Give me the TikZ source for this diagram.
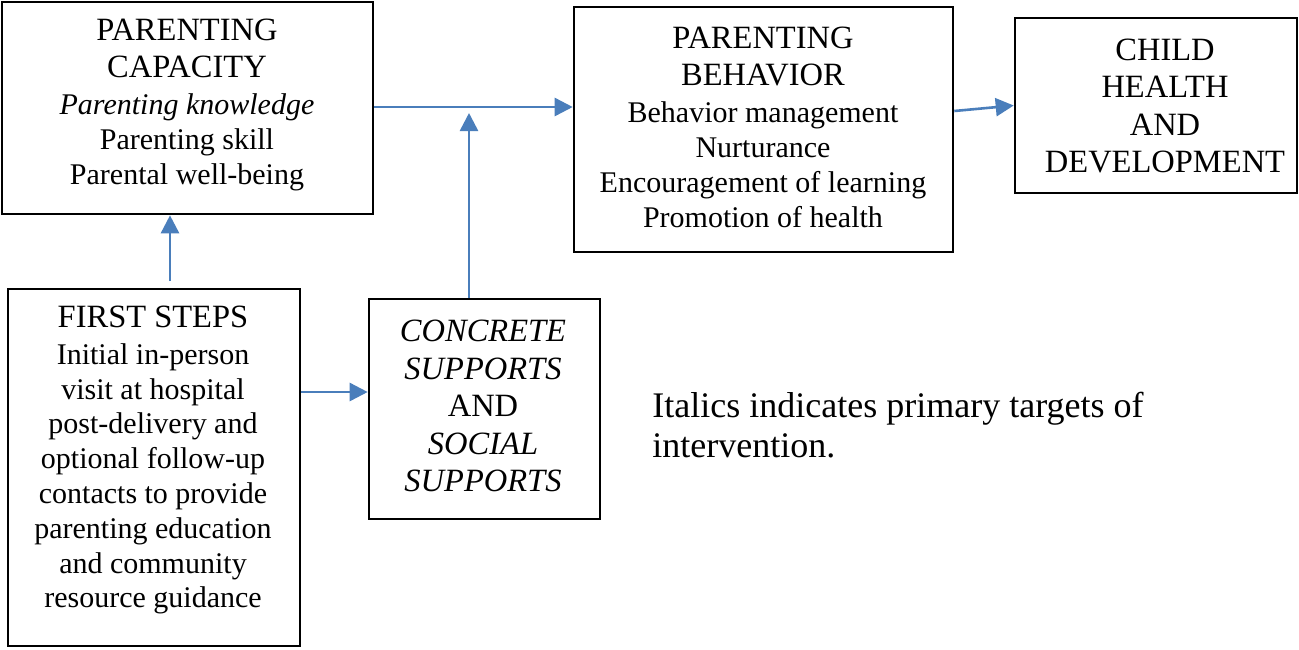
\documentclass[tikz,border=0pt]{standalone}
\usepackage{fontspec}
\setmainfont{Liberation Serif}
\usetikzlibrary{arrows.meta}
\definecolor{arrowblue}{HTML}{4A7EBB}
\newcommand{\ttlf}{\fontsize{16.25}{17.4}\selectfont}
\newcommand{\bdyf}{\fontsize{15}{17.4}\selectfont}
\newcommand{\capsf}{\fontsize{16.25}{18.8}\selectfont}
\begin{document}
\begin{tikzpicture}[x=0.5pt,y=-0.5pt,
  box/.style={draw=black, line width=1.3pt, inner sep=0pt},
  txt/.style={align=center, inner sep=0pt, font=\bdyf},
  capstxt/.style={align=center, inner sep=0pt, font=\capsf},
  arr/.style={draw=arrowblue, line width=1.3pt, -{Triangle[length=9pt,width=9pt]}}]
\useasboundingbox (0,0) rectangle (1299,649);
% boxes
\node[box, minimum width=185.5pt, minimum height=106pt] (cap) at (187.5,108) {};
\node[box, minimum width=189.5pt, minimum height=122.5pt] (beh) at (763.5,129.5) {};
\node[box, minimum width=141pt, minimum height=87.5pt] (child) at (1156,105.5) {};
\node[box, minimum width=146pt, minimum height=178.5pt] (fs) at (154,467.5) {};
\node[box, minimum width=115.5pt, minimum height=110pt] (cs) at (484.5,409) {};
% texts
\node[txt] (capt) at (187,105) {\ttlf PARENTING\\[1.2pt] \ttlf CAPACITY\\[1.2pt] \itshape Parenting knowledge\\ Parenting skill\\ Parental well-being};
\node[txt] (beht) at (763,127) {\ttlf PARENTING\\[1.2pt] \ttlf BEHAVIOR\\[1.2pt] Behavior management\\ Nurturance\\ Encouragement of learning\\ Promotion of health};
\node[capstxt] (childt) at (1165,106) {CHILD\\ HEALTH\\ AND\\ DEVELOPMENT};
\node[txt] (fst) at (153,460) {\ttlf FIRST STEPS\\[1.2pt] Initial in-person\\ visit at hospital\\ post-delivery and\\ optional follow-up\\ contacts to provide\\ parenting education\\ and community\\ resource guidance};
\node[capstxt] (cst) at (483,406) {\itshape CONCRETE\\ \itshape SUPPORTS\\ AND\\ \itshape SOCIAL\\ \itshape SUPPORTS};
\node[align=left, inner sep=0pt, anchor=west, font=\fontsize{18}{20}\selectfont] (note) at (652,425) {Italics indicates primary targets of\\ intervention.};
% connectors
\coordinate (j) at (469,113);
\coordinate (fsTop) at (170,281);
\coordinate (fsR) at (300,392);
\draw[arr] (cap.east |- 0,107) -- (beh.west |- 0,107);
\draw[arr] (cs.north -| j) -- (j);
\draw[arr] (fsTop) -- (fsTop |- cap.south);
\draw[arr] (fs.east |- fsR) -- (cs.west |- fsR);
\draw[arr] ([yshift=9.25pt]beh.east) -- (child.west);
\end{tikzpicture}
\end{document}
